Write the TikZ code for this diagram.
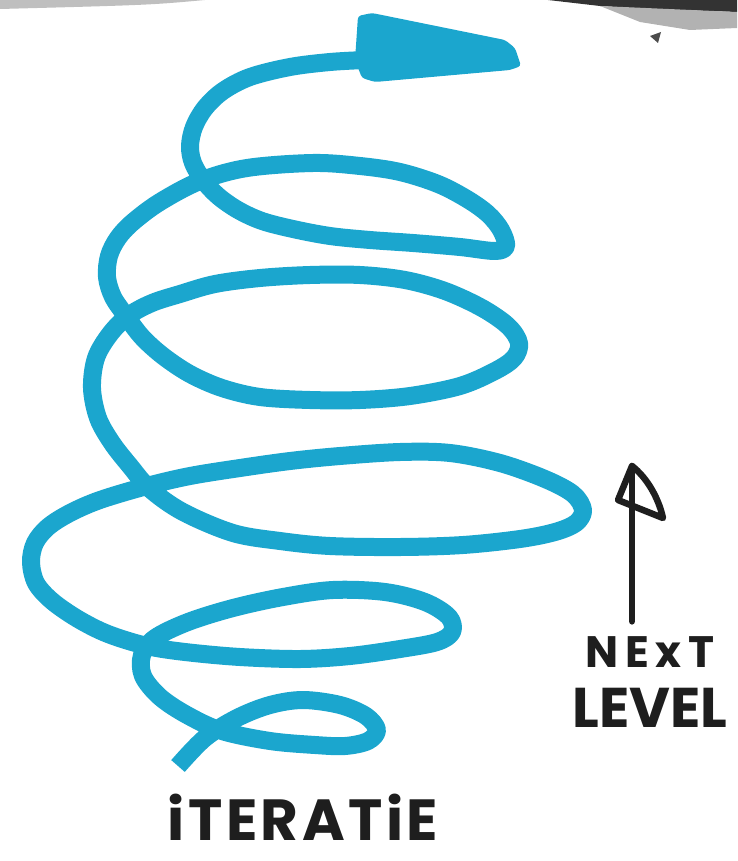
\documentclass[tikz,border=0pt]{standalone}
\usepackage{fontspec}
\usepackage{tikz}
\usetikzlibrary{arrows.meta,positioning}
\newfontfamily\handfont{Poppins}
\definecolor{markerBlue}{RGB}{27,166,206}
\definecolor{markerBlack}{RGB}{30,30,30}

\begin{document}
\begin{tikzpicture}[
    x=1pt, y=-1pt,
    node distance=20pt,
    every node/.style={inner sep=0pt, text=markerBlack},
    marker/.style={
        draw=markerBlue,
        line width=18pt,
        line cap=butt,
        line join=round
    },
    pen/.style={
        draw=markerBlack,
        line width=6.5pt,
        line cap=round,
        line join=round
    },
    hand/.style n args={2}{
        font=\handfont\bfseries\fontsize{#1}{#1}\selectfont\addfontfeature{LetterSpace=#2}
    }
]
  \useasboundingbox (0,0) rectangle (737,861);

  \fill[black!25] (0,0) -- (205,0) .. controls (150,5) .. (0,9) -- cycle;
  \fill[black!80] (548,0) -- (737,0) -- (737,12) -- (650,9) -- (600,6) -- cycle;
  \fill[black!30] (600,6) -- (737,12) -- (737,28) -- (690,30) -- (640,22) -- cycle;
  \fill[black!70] (650,36) -- (661,32) -- (658,43) -- cycle;

  \draw[marker] plot[smooth, tension=0.55] coordinates {
    (178,766) (205,738) (237,718) (270,705) (303,700) (340,705) (366,716)
    (377,730) (368,741) (345,746) (315,745) (270,741) (222,731) (187,715)
    (160,697) (143,676) (142,655) (155,638) (188,622) (233,608) (283,597)
    (333,590) (385,592) (425,602) (449,617) (452,632) (437,642) (400,649)
    (350,656) (300,659) (240,657) (185,652) (147,646) (108,634) (78,619)
    (52,601) (36,583) (31,562) (35,543) (48,527) (70,513) (100,500)
    (147,486) (190,476) (240,468) (290,461) (340,456) (400,452) (450,453)
    (500,463) (545,479) (573,494) (583,510) (576,523) (555,532) (520,539)
    (463,545) (400,547) (330,546) (280,541) (233,533) (183,512) (150,489)
    (130,466) (112,443) (98,418) (92,388) (96,358) (110,334) (128,316)
    (152,303) (180,294) (215,284) (260,278) (310,275) (360,275) (405,280)
    (445,291) (482,308) (508,326) (519,343) (514,358) (495,371) (460,386)
    (410,396) (360,400) (310,400) (260,397) (222,388) (190,374) (163,356)
    (142,337) (126,316) (113,297) (107,277) (109,256) (118,238) (133,222)
    (160,202) (200,181) (247,168) (313,163) (360,166) (400,172) (438,184)
    (467,199) (488,214) (501,230) (506,246) (495,251) (460,247) (413,243)
    (370,240) (330,236) (293,229) (262,221) (238,210) (218,196) (203,180)
    (193,163) (190,146) (194,127) (205,108) (223,91) (250,77) (290,67)
    (330,62) (365,60)};
  \fill[markerBlue, rounded corners=3pt] (358,16) -- (372,13) -- (505,40)
    -- (515,48) -- (521,66) -- (510,70) -- (375,82) -- (362,78) -- (355,60) -- cycle;

  \node[hand={58}{6}] (iteratie) at (303,817) {iTERATiE};
  \node[hand={44}{15}] (next) at (650,652) {NExT};
  \node[hand={56}{0}, below=of next] (level) {LEVEL};

  \coordinate (nexttip) at (632,466);
  \draw[pen] (next.north -| nexttip) ++(0,-15) -- (nexttip);
  \draw[pen] (nexttip) -- (618,500) -- (663,518)
    .. controls (658,496) and (646,477) .. (nexttip) -- cycle;
\end{tikzpicture}
\end{document}
